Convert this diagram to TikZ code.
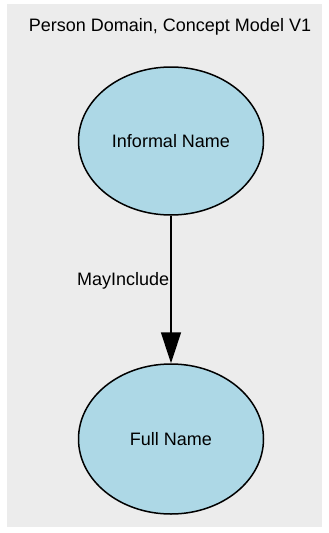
\documentclass[tikz,border=0pt]{standalone}
\usepackage{fontspec}
\setmainfont{Liberation Sans}
\usetikzlibrary{arrows.meta,shapes.geometric}

\begin{document}
\begin{tikzpicture}[x=1pt, y=-1pt, every node/.style={font=\fontsize{18}{21}\selectfont}, >={Triangle[length=31pt, width=20pt]}]
	\useasboundingbox (0,0) rectangle (329,533);
	\fill[gray!15] (7,4) rectangle (322,527);
	\node (title) at (170,27) {Person Domain, Concept Model V1};
	\node[draw, ellipse, line width=1.5pt, fill={rgb,255:red,173;green,216;blue,230}, minimum width=185pt, minimum height=148pt, inner sep=0pt] (informal) at (171,141) {Informal Name};
	\node[draw, ellipse, line width=1.5pt, fill={rgb,255:red,173;green,216;blue,230}, minimum width=185pt, minimum height=150pt, inner sep=0pt] (full) at (171,439) {Full Name};
	\draw[->, line width=1.5pt] (informal) -- (full) node[pos=0.44, anchor=east, inner sep=1pt] {MayInclude};
\end{tikzpicture}
\end{document}
